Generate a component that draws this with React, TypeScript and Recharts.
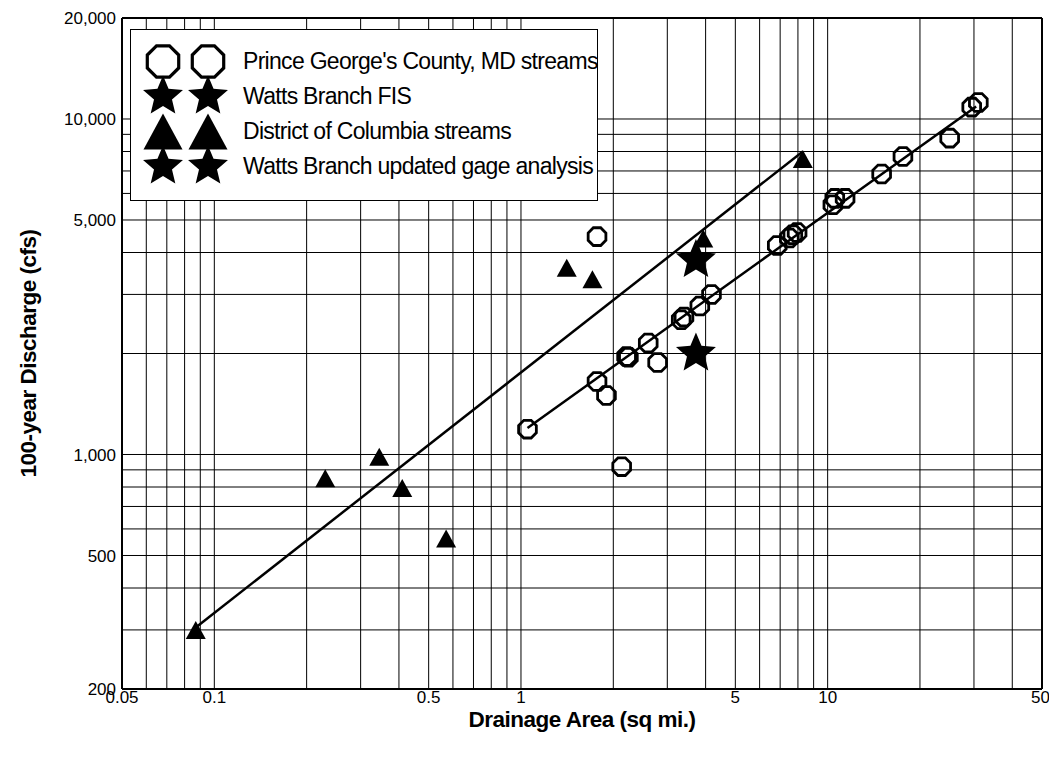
import * as React from 'react';
import { ScatterChart, Scatter, XAxis, YAxis, ReferenceLine, Legend } from 'recharts';

// Drainage area (sq mi) vs 100-year discharge (cfs)
const pgStreams = [
  { area: 1.05, q: 1190 },
  { area: 1.77, q: 1650 },
  { area: 1.9, q: 1500 },
  { area: 1.77, q: 4460 },
  { area: 2.13, q: 920 },
  { area: 2.21, q: 1960 },
  { area: 2.24, q: 1950 },
  { area: 2.6, q: 2150 },
  { area: 2.79, q: 1880 },
  { area: 3.33, q: 2520 },
  { area: 3.4, q: 2570 },
  { area: 3.83, q: 2770 },
  { area: 4.18, q: 3000 },
  { area: 6.85, q: 4200 },
  { area: 7.5, q: 4420 },
  { area: 7.7, q: 4520 },
  { area: 7.95, q: 4590 },
  { area: 10.4, q: 5550 },
  { area: 10.55, q: 5800 },
  { area: 11.4, q: 5800 },
  { area: 15.0, q: 6860 },
  { area: 17.6, q: 7730 },
  { area: 25.0, q: 8770 },
  { area: 29.5, q: 10850 },
  { area: 31.0, q: 11200 },
];

const dcStreams = [
  { area: 0.087, q: 300 },
  { area: 0.23, q: 850 },
  { area: 0.345, q: 985 },
  { area: 0.41, q: 795 },
  { area: 0.57, q: 562 },
  { area: 1.41, q: 3600 },
  { area: 1.71, q: 3330 },
  { area: 3.93, q: 4400 },
  { area: 8.3, q: 7600 },
];

const wattsFis = [{ area: 3.72, q: 3800 }];
const wattsGage = [{ area: 3.72, q: 2000 }];

// fitted trend lines (end points)
const dcTrend = [
  { area: 0.087, q: 305 },
  { area: 8.3, q: 8000 },
];
const pgTrend = [
  { area: 1.05, q: 1200 },
  { area: 30.5, q: 10900 },
];

const xTicks = [0.05, 0.1, 0.5, 1, 5, 10, 50];
const yTicks = [200, 500, 1000, 5000, 10000, 20000];
const xGrid = [
  0.06, 0.07, 0.08, 0.09, 0.1, 0.2, 0.3, 0.4, 0.5, 0.6, 0.7, 0.8, 0.9,
  1, 2, 3, 4, 5, 6, 7, 8, 9, 10, 20, 30, 40, 50,
];
const yGrid = [
  300, 400, 500, 600, 700, 800, 900, 1000, 2000, 3000, 4000, 5000, 6000,
  7000, 8000, 9000, 10000, 20000,
];

const PG_NAME = "Prince George's County, MD streams";
const FIS_NAME = 'Watts Branch FIS';
const DC_NAME = 'District of Columbia streams';
const GAGE_NAME = 'Watts Branch updated gage analysis';

const legendItems = [
  { name: PG_NAME, kind: 'octagon' },
  { name: FIS_NAME, kind: 'star' },
  { name: DC_NAME, kind: 'triangle' },
  { name: GAGE_NAME, kind: 'star' },
];

const FONT = "'Liberation Sans', Arial, Helvetica, sans-serif";

function octagonPoints(cx: number, cy: number, r: number) {
  const pts: string[] = [];
  for (let k = 0; k < 8; k++) {
    const a = ((22.5 + 45 * k) * Math.PI) / 180;
    pts.push(`${cx + r * Math.cos(a)},${cy + r * Math.sin(a)}`);
  }
  return pts.join(' ');
}

function starPoints(cx: number, cy: number, R: number, ratio = 0.45) {
  const pts: string[] = [];
  for (let k = 0; k < 10; k++) {
    const rr = k % 2 === 0 ? R : R * ratio;
    const a = ((-90 + 36 * k) * Math.PI) / 180;
    pts.push(`${cx + rr * Math.cos(a)},${cy + rr * Math.sin(a)}`);
  }
  return pts.join(' ');
}

function trianglePoints(cx: number, cy: number, w: number, h: number) {
  return `${cx},${cy - h / 2} ${cx + w / 2},${cy + h / 2} ${cx - w / 2},${cy + h / 2}`;
}

function Marker({ kind, cx, cy, big }: { kind: string; cx: number; cy: number; big?: boolean }) {
  if (kind === 'octagon') {
    return (
      <polygon
        points={octagonPoints(cx, cy, big ? 17 : 9.6)}
        fill="none"
        stroke="#000"
        strokeWidth={big ? 3.2 : 2.8}
      />
    );
  }
  if (kind === 'triangle') {
    return <polygon points={big ? trianglePoints(cx, cy, 39, 36) : trianglePoints(cx, cy, 20, 18)} fill="#000" />;
  }
  return <polygon points={starPoints(cx, cy, 21)} fill="#000" />;
}

function LegendBox() {
  return (
    <div
      style={{
        width: 468,
        height: 172,
        boxSizing: 'border-box',
        background: '#fff',
        border: '1.5px solid #000',
        paddingTop: 14,
        fontFamily: FONT,
      }}
    >
      {legendItems.map((item) => (
        <div key={item.name} style={{ display: 'flex', alignItems: 'center', height: 35 }}>
          <svg width={100} height={35} style={{ overflow: 'visible', flex: 'none' }}>
            <Marker kind={item.kind} cx={32} cy={17.5} big />
            <Marker kind={item.kind} cx={77} cy={17.5} big />
          </svg>
          <span style={{ fontSize: 23, marginLeft: 12, color: '#000', whiteSpace: 'nowrap', letterSpacing: -0.7 }}>
            {item.name}
          </span>
        </div>
      ))}
    </div>
  );
}

const noShape = () => <g />;

export default function App() {
  return (
    <div style={{ width: 1041, height: 741, background: '#fff' }}>
      <ScatterChart width={1041} height={741} margin={{ top: 10, right: 7, bottom: 30, left: 44 }}>
        <XAxis
          type="number"
          dataKey="area"
          scale="log"
          domain={[0.05, 50]}
          ticks={xTicks}
          allowDataOverflow
          height={30}
          tickLine={false}
          tickSize={2}
          tickMargin={0}
          axisLine={{ stroke: '#000', strokeWidth: 2 }}
          tick={{ fill: '#000', fontSize: 17, fontFamily: FONT }}
          label={{
            value: 'Drainage Area (sq mi.)',
            position: 'insideBottom',
            offset: -8,
            style: { fontFamily: FONT, fontSize: 22.5, fontWeight: 'bold', fill: '#000', letterSpacing: -0.5 },
          }}
        />
        <YAxis
          type="number"
          dataKey="q"
          scale="log"
          domain={[200, 20000]}
          ticks={yTicks}
          allowDataOverflow
          width={70}
          tickLine={false}
          tickSize={2}
          tickMargin={4}
          axisLine={{ stroke: '#000', strokeWidth: 2 }}
          tickFormatter={(v: number) => v.toLocaleString('en-US')}
          tick={{ fill: '#000', fontSize: 17, fontFamily: FONT }}
          label={{
            value: '100-year Discharge (cfs)',
            angle: -90,
            position: 'insideLeft',
            offset: -24,
            style: {
              textAnchor: 'middle',
              fontFamily: FONT,
              fontSize: 22.5,
              fontWeight: 'bold',
              fill: '#000',
              letterSpacing: -0.5,
            },
          }}
        />
        {xGrid.map((v) => (
          <ReferenceLine key={`gx-${v}`} x={v} stroke="#000" strokeWidth={v === 50 ? 2 : 1} />
        ))}
        {yGrid.map((v) => (
          <ReferenceLine key={`gy-${v}`} y={v} stroke="#000" strokeWidth={v === 20000 ? 2 : 1} />
        ))}
        <Scatter
          data={dcTrend}
          line={{ stroke: '#000', strokeWidth: 2.5 }}
          shape={noShape}
          legendType="none"
          isAnimationActive={false}
        />
        <Scatter
          data={pgTrend}
          line={{ stroke: '#000', strokeWidth: 2.5 }}
          shape={noShape}
          legendType="none"
          isAnimationActive={false}
        />
        <Scatter
          name={PG_NAME}
          data={pgStreams}
          shape={(p: any) => <Marker kind="octagon" cx={p.cx} cy={p.cy} />}
          isAnimationActive={false}
        />
        <Scatter
          name={DC_NAME}
          data={dcStreams}
          shape={(p: any) => <Marker kind="triangle" cx={p.cx} cy={p.cy} />}
          isAnimationActive={false}
        />
        <Scatter
          name={FIS_NAME}
          data={wattsFis}
          shape={(p: any) => <Marker kind="star" cx={p.cx} cy={p.cy} />}
          isAnimationActive={false}
        />
        <Scatter
          name={GAGE_NAME}
          data={wattsGage}
          shape={(p: any) => <Marker kind="star" cx={p.cx} cy={p.cy} />}
          isAnimationActive={false}
        />
        <Legend
          layout="vertical"
          align="center"
          verticalAlign="middle"
          content={() => <LegendBox />}
          wrapperStyle={{ left: 122, top: 21, width: 468, height: 172 }}
        />
      </ScatterChart>
    </div>
  );
}
